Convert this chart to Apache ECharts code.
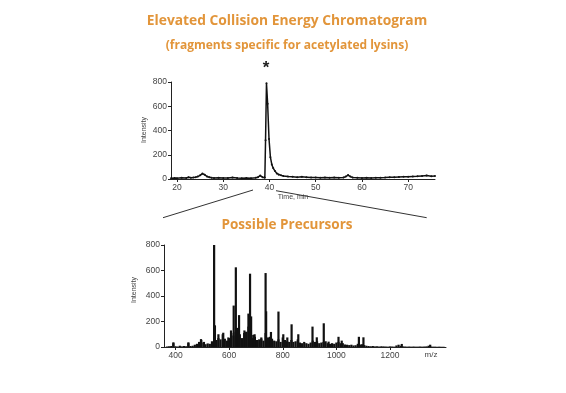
<!DOCTYPE html>
<html>
<head>
<meta charset="utf-8">
<script src="https://cdn.jsdelivr.net/npm/echarts@6/dist/echarts.min.js"></script>
<style>
html,body{margin:0;padding:0;background:#fff;}
#c{width:566px;height:393px;}
</style>
</head>
<body>
<div id="c"></div>
<script>
// ---- Data ----
const titleText = 'Elevated Collision Energy Chromatogram';
const subtitleText = '(fragments specific for acetylated lysins)';
const lowerTitleText = 'Possible Precursors';

// Chromatogram (time, min / intensity)
const chromTime = [18.7,19.5,20,21,22,22.5,23,23.5,24,24.5,25,25.5,26,26.5,27,27.5,28,29,30,31,32,33,34,35,36,37,37.5,38,38.5,39,39.15,39.35,39.6,39.9,40.2,40.5,40.8,41.2,41.6,42,42.5,43,44,45,46,47,48,49,50,51,52,53,54,55,56,56.5,57,57.5,58,59,60,61,62,63,64,65,66,67,68,69,70,71,72,73,74,75,75.8];
const chromInt  = [6,8,6,10,8,14,10,12,15,20,30,45,35,20,15,10,8,10,8,8,12,8,6,8,6,10,15,28,15,10,320,790,620,330,180,120,90,65,45,35,30,25,20,18,15,18,15,12,12,10,12,10,12,10,12,20,32,20,12,10,8,10,8,10,10,12,15,14,16,18,18,20,22,25,28,22,25];
const chromXTicks = [20,30,40,50,60,70];

// Mass spectrum: major peaks (m/z, intensity)
const peakMz  = [392,448,495,506,544,547,560,578,597,607,617,625,630,637,657,664,672,678,682,690,695,720,736,738,745,756,784,802,817,833,858,911,927,953,971,1008,1020,1084,1101,1244,1350];
const peakInt = [37,37,62,40,800,170,100,112,75,130,325,625,150,250,130,120,262,575,240,95,100,75,580,280,75,118,278,100,75,178,100,160,76,186,42,80,50,80,76,24,18];
// Mass spectrum: dense low-level signals (m/z, intensity)
const grassMz  = [368,376,384,392,400,408,416,424,432,440,448,456,464,
  472,480,488,496,504,512,520,528,536,
  544,552,560,568,576,584,592,600,608,
  616,624,632,640,648,656,664,672,680,
  688,696,704,712,720,728,736,744,752,
  760,768,776,784,792,800,808,816,824,
  832,840,848,856,864,872,880,888,896,
  904,912,920,928,936,944,952,960,968,
  976,984,992,1000,1008,1016,1024,1032,1040,
  1048,1056,1064,1072,1080,1088,1096,1104,1112,
  1120,1128,1136,1144,1152,1160,1168,1176,1184,1192,1200,1208,1216,1224,1232,1240,1248,1256,
  1264,1272,1280,1288,1296,1304,1312,1320,1328,1336,1344,1352,1360,1368,1376,1384,1392,1400];
const grassInt = [4,6,8,30,6,4,10,5,8,6,30,8,10,
  18,25,40,55,35,22,28,25,45,
  150,55,70,60,100,65,50,70,110,
  90,120,80,100,70,110,115,160,130,
  70,80,55,60,65,50,110,60,80,
  65,50,45,60,40,75,55,45,40,
  55,40,45,60,35,30,40,30,25,
  35,50,40,45,30,35,40,45,30,
  25,30,25,35,40,30,30,20,18,
  15,18,12,14,25,20,22,15,10,
  8,6,8,5,6,4,6,5,4,3,5,4,3,12,18,10,5,4,
  3,4,3,4,3,3,4,3,4,5,10,4,3,3,2,3,2,2];
const msXTicks = [400,600,800,1000,1200];

// ---- Build ----
const chromData = chromTime.map((t,i)=>[t, chromInt[i]]);
const msData = grassMz.map((m,i)=>[m, grassInt[i]]).concat(peakMz.map((m,i)=>[m, peakInt[i]]));

const orange = '#E2953A';
const axisCol = '#222';
const labelCol = '#444';
const plain = v => String(v);

function yAxis(gridIndex){
  return {
    type:'value', gridIndex, min:0, max:800, interval:200,
    axisLine:{show:true, lineStyle:{color:axisCol, width:1}},
    axisTick:{show:true, length:3, lineStyle:{color:axisCol}},
    axisLabel:{fontSize:8.5, color:labelCol, margin:4, fontFamily:'Liberation Sans', formatter:plain},
    splitLine:{show:false}
  };
}

const chart = echarts.init(document.getElementById('c'), null, {renderer:'canvas'});
chart.setOption({
  animation:false,
  backgroundColor:'#fff',
  title:[
    {text:titleText, left:282, textAlign:'center', top:9, textStyle:{color:orange, fontSize:13.8, fontWeight:'bold', fontFamily:'Open Sans'}},
    {text:subtitleText, left:282, textAlign:'center', top:35, textStyle:{color:orange, fontSize:12, fontWeight:'bold', fontFamily:'Open Sans'}},
    {text:lowerTitleText, left:282, textAlign:'center', top:213, textStyle:{color:orange, fontSize:13.5, fontWeight:'bold', fontFamily:'Open Sans'}}
  ],
  grid:[
    {left:171, right:131, top:82, bottom:214},
    {left:164, right:120, top:245, bottom:46}
  ],
  xAxis:[
    {type:'value', gridIndex:0, min:18.7, max:75.8,
     axisLine:{show:true, lineStyle:{color:axisCol}},
     axisTick:{show:true, length:3, customValues:chromXTicks, lineStyle:{color:axisCol}},
     axisLabel:{fontSize:8.5, color:labelCol, margin:4, customValues:chromXTicks, fontFamily:'Liberation Sans', formatter:plain},
     splitLine:{show:false}},
    {type:'value', gridIndex:1, min:357, max:1409,
     axisLine:{show:true, lineStyle:{color:axisCol}},
     axisTick:{show:true, length:3, customValues:msXTicks, lineStyle:{color:axisCol}},
     axisLabel:{fontSize:8.5, color:labelCol, margin:4, customValues:msXTicks, fontFamily:'Liberation Sans', formatter:plain},
     splitLine:{show:false}}
  ],
  yAxis:[yAxis(0), yAxis(1)],
  series:[
    {type:'line', xAxisIndex:0, yAxisIndex:0, data:chromData,
     lineStyle:{color:'#111', width:1.5}, itemStyle:{color:'#111'},
     showSymbol:true, symbol:'circle', symbolSize:2},
    {type:'bar', xAxisIndex:1, yAxisIndex:1, data:msData, barWidth:2.2,
     itemStyle:{color:'#111'}}
  ],
  graphic:[
    {type:'text', x:266, y:68, style:{text:'*', fontSize:17, fontWeight:'bold', fill:'#222', align:'center', verticalAlign:'middle', fontFamily:'Liberation Sans'}},
    {type:'text', x:144, y:130, rotation:Math.PI/2, style:{text:'Intensity', fontSize:7, fill:labelCol, align:'center', verticalAlign:'middle', fontFamily:'Liberation Sans'}},
    {type:'text', x:134, y:290, rotation:Math.PI/2, style:{text:'Intensity', fontSize:7, fill:labelCol, align:'center', verticalAlign:'middle', fontFamily:'Liberation Sans'}},
    {type:'text', x:293, y:197, style:{text:'Time, min', fontSize:7, fill:labelCol, align:'center', verticalAlign:'middle', fontFamily:'Liberation Sans'}},
    {type:'text', x:431, y:355, style:{text:'m/z', fontSize:8, fill:labelCol, align:'center', verticalAlign:'middle', fontFamily:'Liberation Sans'}},
    {type:'line', shape:{x1:163, y1:217.7, x2:253, y2:190}, style:{stroke:'#333', lineWidth:1}},
    {type:'line', shape:{x1:276, y1:190.7, x2:426.7, y2:217.7}, style:{stroke:'#333', lineWidth:1}}
  ]
});
</script>
</body>
</html>
